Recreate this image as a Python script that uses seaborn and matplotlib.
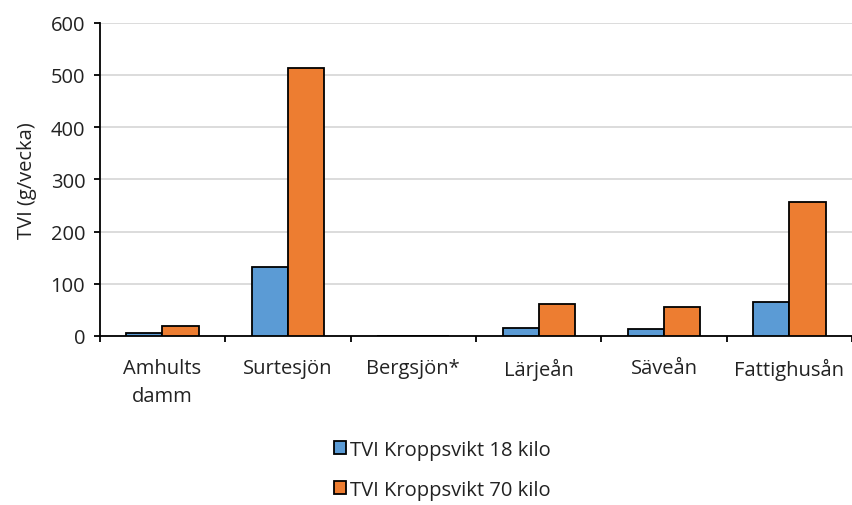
import pandas as pd
import numpy as np
import matplotlib
matplotlib.use('Agg')
import matplotlib.pyplot as plt
import seaborn as sns

# --- DATA ---
platser = ['Amhults\ndamm', 'Surtesjön', 'Bergsjön*', 'Lärjeån', 'Säveån', 'Fattighusån']
tvi_18 = [5.5, 132, 0, 15, 14, 65]
tvi_70 = [20, 514, 0, 61, 56, 256]
serier = ['TVI Kroppsvikt 18 kilo', 'TVI Kroppsvikt 70 kilo']

df = pd.DataFrame({
    'Plats': platser * 2,
    'TVI': tvi_18 + tvi_70,
    'Serie': [serier[0]] * len(platser) + [serier[1]] * len(platser),
})

# --- STYLE ---
sns.set_style('white')
plt.rcParams['font.family'] = ['Open Sans', 'DejaVu Sans']
fs = 14.5

fig = plt.figure(figsize=(8.53, 5.06), dpi=100)
ax = fig.add_axes([0.117, 0.334, 0.882, 0.619])

sns.barplot(data=df, x='Plats', y='TVI', hue='Serie',
            palette=['#5B9BD5', '#ED7D31'], saturation=1, width=0.575,
            edgecolor='black', linewidth=1.3, ax=ax, zorder=3)

ax.set_ylim(0, 600)
ax.set_xlim(-0.5, len(platser) - 0.5)
ax.set_yticks(np.arange(0, 601, 100))
ax.yaxis.grid(True, color='#d9d9d9', linewidth=1.3, zorder=0)
ax.set_axisbelow(True)

ax.set_xlabel('')
ax.set_ylabel('TVI (g/vecka)', fontsize=fs, color='#222222', labelpad=10)

# category boundary ticks
ax.set_xticks(np.arange(-0.5, len(platser), 1), minor=True)
ax.tick_params(axis='x', which='major', length=0, pad=16, labelsize=fs, colors='#222222')
ax.tick_params(axis='x', which='minor', length=4.5, width=1.3, color='black', direction='out', bottom=True)
ax.tick_params(axis='y', length=4.5, width=1.3, color='black', direction='out', left=True,
               labelsize=fs, labelcolor='#222222', pad=6)
for lbl in ax.get_xticklabels():
    lbl.set_linespacing(1.55)

for side in ['top', 'right']:
    ax.spines[side].set_visible(False)
for side in ['left', 'bottom']:
    ax.spines[side].set_color('black')
    ax.spines[side].set_linewidth(1.3)

leg = ax.legend(loc='center', bbox_to_anchor=(0.519, 0.070), bbox_transform=fig.transFigure,
                ncol=1, frameon=False, handlelength=0.6, handleheight=0.6, handletextpad=0.2,
                labelspacing=1.0, fontsize=fs)
for t in leg.get_texts():
    t.set_color('#222222')

fig.savefig('out.png', dpi=100)
